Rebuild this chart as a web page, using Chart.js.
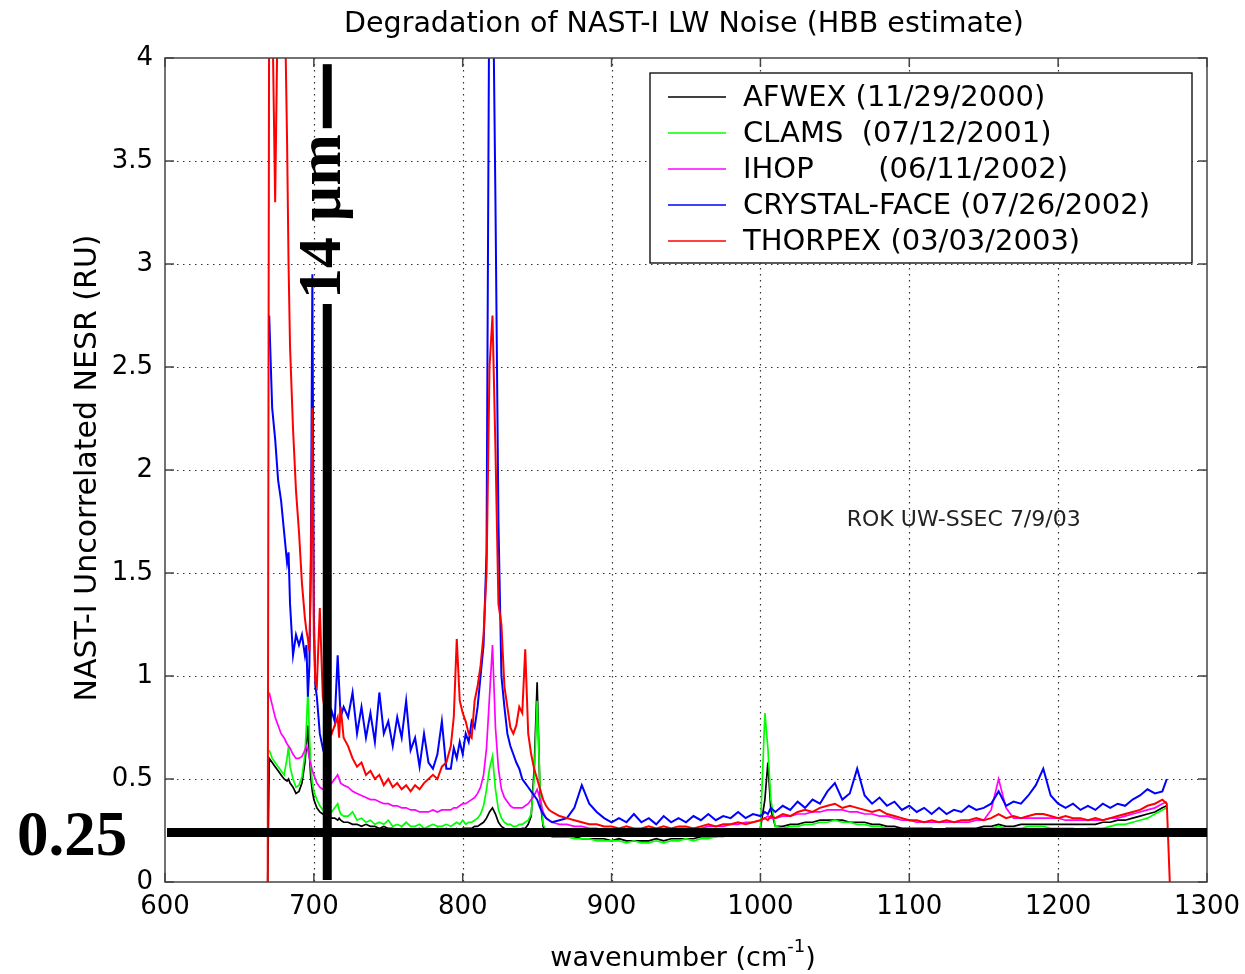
<!DOCTYPE html>
<html>
<head>
<meta charset="utf-8">
<title>Degradation of NAST-I LW Noise (HBB estimate)</title>
<script src="https://cdn.jsdelivr.net/npm/chart.js@4.4.1/dist/chart.umd.min.js"></script>
<style>
  html, body { margin: 0; padding: 0; background: #fff; }
  #wrap { width: 1245px; height: 974px; }
</style>
</head>
<body>
<div id="wrap"><canvas id="noiseChart" width="1245" height="974"></canvas></div>
<script>
// wavenumber grid (cm-1), shared by all five flights
var wavenumber = [
    669, 670, 672, 674, 676, 678, 680, 682, 683, 684, 686, 688, 690, 692, 694, 695, 696, 697, 698, 699,
    700, 701, 702, 704, 706, 708, 710, 712, 714, 716, 717, 718, 720,
    723, 726, 729, 732, 735, 738, 741, 744, 747, 750, 753, 756, 759, 762, 765, 768, 771, 774, 777, 780,
    783, 786, 789,
    792, 794, 796, 798, 800, 802, 804, 806, 808, 810, 812, 814, 816, 818, 820, 822, 824, 826, 828, 830,
    832, 834, 836, 838, 840, 842, 844, 846, 848, 850, 852, 854, 856, 858, 860,
    865, 870, 875, 880, 885, 890, 895, 900, 905, 910, 915, 920, 925, 930, 935, 940, 945, 950, 955, 960,
    965, 970, 975, 980, 985, 990, 995, 1000, 1003, 1005, 1007,
    1010, 1015, 1020, 1025, 1030, 1035, 1040, 1045, 1050, 1055, 1060, 1065, 1070, 1075, 1080, 1085, 1090,
    1095, 1100, 1105, 1110, 1115, 1120, 1125, 1130, 1135, 1140, 1145, 1150, 1155, 1160, 1165, 1170, 1175,
    1180, 1185, 1190, 1195, 1200, 1205, 1210, 1215, 1220, 1225, 1230, 1235, 1240, 1245, 1250, 1255, 1260,
    1265, 1270, 1273, 1275
];

// NESR (RU), one list per flight
var afwex = [
    0, 0.60, 0.58, 0.56, 0.54, 0.52, 0.50, 0.49, 0.50, 0.48, 0.46, 0.43, 0.44, 0.48, 0.58, 0.66, 0.76, 0.62, 0.50, 0.44,
    0.40, 0.38, 0.36, 0.34, 0.33, 0.32, 0.32, 0.31, 0.31, 0.30, 0.31, 0.30, 0.29,
    0.29, 0.28, 0.28, 0.27, 0.28, 0.27, 0.27, 0.26, 0.27, 0.26, 0.26, 0.25, 0.26, 0.25, 0.25, 0.25, 0.26, 0.25, 0.25, 0.25,
    0.26, 0.25, 0.26,
    0.25, 0.25, 0.26, 0.25, 0.26, 0.26, 0.26, 0.26, 0.27, 0.27, 0.28, 0.29, 0.31, 0.34, 0.36, 0.33, 0.29, 0.27, 0.26, 0.25,
    0.25, 0.25, 0.25, 0.25, 0.26, 0.26, 0.28, 0.32, 0.55, 0.97, 0.40, 0.27, 0.24, 0.23, 0.22,
    0.22, 0.22, 0.22, 0.21, 0.21, 0.21, 0.21, 0.20, 0.21, 0.20, 0.20, 0.20, 0.20, 0.21, 0.20, 0.21, 0.21, 0.21, 0.21, 0.22,
    0.22, 0.22, 0.23, 0.23, 0.24, 0.24, 0.25, 0.26, 0.40, 0.58, 0.35,
    0.27, 0.27, 0.28, 0.28, 0.29, 0.29, 0.30, 0.30, 0.30, 0.30, 0.29, 0.29, 0.29, 0.28, 0.28, 0.27, 0.27,
    0.26, 0.26, 0.26, 0.26, 0.26, 0.25, 0.26, 0.26, 0.26, 0.26, 0.26, 0.27, 0.27, 0.28, 0.27, 0.27, 0.28,
    0.28, 0.28, 0.28, 0.28, 0.28, 0.28, 0.28, 0.28, 0.28, 0.28, 0.29, 0.29, 0.30, 0.30, 0.31, 0.32, 0.33,
    0.34, 0.36, 0.37, null
];
var clams = [
    null, 0.64, 0.60, 0.58, 0.56, 0.54, 0.52, 0.60, 0.66, 0.56, 0.50, 0.46, 0.47, 0.51, 0.62, 0.76, 0.93, 0.72, 0.56, 0.48,
    0.44, 0.42, 0.40, 0.37, 0.35, 0.34, 0.33, 0.34, 0.36, 0.38, 0.35, 0.33, 0.32,
    0.32, 0.34, 0.30, 0.31, 0.29, 0.30, 0.28, 0.29, 0.28, 0.30, 0.27, 0.28, 0.27, 0.29, 0.27, 0.27, 0.28, 0.26, 0.27, 0.28,
    0.27, 0.27, 0.28,
    0.27, 0.28, 0.29, 0.28, 0.30, 0.28, 0.29, 0.29, 0.30, 0.31, 0.33, 0.37, 0.45, 0.55, 0.61, 0.45, 0.35, 0.31, 0.29, 0.28,
    0.28, 0.27, 0.27, 0.28, 0.28, 0.29, 0.30, 0.33, 0.50, 0.88, 0.45, 0.28, 0.25, 0.24, 0.23,
    0.22, 0.22, 0.21, 0.21, 0.21, 0.20, 0.20, 0.20, 0.20, 0.19, 0.20, 0.19, 0.19, 0.20, 0.19, 0.20, 0.20, 0.21, 0.20, 0.21,
    0.21, 0.22, 0.22, 0.23, 0.23, 0.24, 0.24, 0.26, 0.82, 0.65, 0.40,
    0.27, 0.26, 0.27, 0.27, 0.28, 0.28, 0.29, 0.29, 0.30, 0.29, 0.29, 0.28, 0.28, 0.27, 0.27, 0.26, 0.26,
    0.25, 0.25, 0.25, 0.24, 0.25, 0.24, 0.25, 0.24, 0.25, 0.25, 0.25, 0.25, 0.26, 0.27, 0.26, 0.26, 0.26,
    0.27, 0.27, 0.27, 0.26, 0.26, 0.26, 0.26, 0.25, 0.26, 0.26, 0.26, 0.27, 0.28, 0.28, 0.29, 0.30, 0.31,
    0.33, 0.35, 0.36, null
];
var ihop = [
    null, 0.92, 0.86, 0.80, 0.76, 0.72, 0.70, 0.67, 0.66, 0.65, 0.62, 0.60, 0.60, 0.61, 0.64, 0.66, 0.64, 0.60, 0.57, 0.54,
    0.52, 0.50, 0.48, 0.46, 0.45, 0.45, 0.46, 0.48, 0.50, 0.52, 0.50, 0.48, 0.47,
    0.46, 0.44, 0.43, 0.42, 0.41, 0.40, 0.40, 0.39, 0.38, 0.38, 0.37, 0.37, 0.36, 0.36, 0.35, 0.35, 0.34, 0.34, 0.34, 0.35,
    0.34, 0.35, 0.35,
    0.35, 0.36, 0.36, 0.37, 0.38, 0.38, 0.39, 0.40, 0.41, 0.43, 0.46, 0.52, 0.65, 0.90, 1.15, 0.75, 0.55, 0.45, 0.41, 0.39,
    0.37, 0.36, 0.36, 0.36, 0.36, 0.37, 0.38, 0.40, 0.42, 0.45, 0.40, 0.34, 0.31, 0.30, 0.29,
    0.28, 0.28, 0.27, 0.27, 0.26, 0.26, 0.25, 0.25, 0.25, 0.25, 0.25, 0.25, 0.25, 0.25, 0.25, 0.25, 0.26, 0.26, 0.26, 0.26,
    0.27, 0.27, 0.27, 0.28, 0.28, 0.29, 0.29, 0.30, 0.31, 0.32, 0.31,
    0.31, 0.32, 0.32, 0.33, 0.33, 0.34, 0.34, 0.35, 0.35, 0.35, 0.34, 0.34, 0.33, 0.33, 0.32, 0.32, 0.31,
    0.30, 0.30, 0.29, 0.29, 0.29, 0.29, 0.29, 0.29, 0.29, 0.29, 0.30, 0.30, 0.35, 0.50, 0.36, 0.31, 0.31,
    0.31, 0.31, 0.31, 0.31, 0.31, 0.30, 0.30, 0.30, 0.30, 0.30, 0.30, 0.31, 0.31, 0.32, 0.33, 0.34, 0.35,
    0.36, 0.38, 0.39, null
];
var crystalFace = [
    null, 2.75, 2.30, 2.15, 1.95, 1.85, 1.70, 1.55, 1.60, 1.35, 1.10, 1.20, 1.15, 1.20, 1.10, 1.15, 0.90, 1.05, 1.60, 2.95,
    1.30, 0.95, 0.90, 0.72, 0.65, 0.70, 0.75, 0.83, 0.78, 1.10, 0.95, 0.80, 0.85,
    0.80, 0.92, 0.72, 0.85, 0.70, 0.82, 0.68, 0.92, 0.72, 0.78, 0.66, 0.80, 0.70, 0.88, 0.64, 0.70, 0.56, 0.72, 0.58, 0.55,
    0.62, 0.78, 0.55,
    0.55, 0.65, 0.60, 0.68, 0.62, 0.72, 0.68, 0.78, 0.75, 0.85, 1.00, 1.15, 1.60, 4.60, 4.60, 3.30, 1.75, 1.00, 0.85, 0.72,
    0.66, 0.62, 0.58, 0.55, 0.50, 0.48, 0.46, 0.44, 0.42, 0.40, 0.36, 0.33, 0.31, 0.30, 0.29,
    0.30, 0.31, 0.36, 0.47, 0.38, 0.34, 0.31, 0.29, 0.31, 0.29, 0.33, 0.29, 0.31, 0.28, 0.32, 0.29, 0.31, 0.29, 0.32, 0.30,
    0.33, 0.30, 0.32, 0.31, 0.34, 0.31, 0.33, 0.32, 0.34, 0.33, 0.36,
    0.34, 0.37, 0.35, 0.39, 0.36, 0.40, 0.38, 0.44, 0.48, 0.40, 0.43, 0.55, 0.42, 0.38, 0.41, 0.37, 0.39,
    0.35, 0.37, 0.34, 0.36, 0.33, 0.36, 0.33, 0.35, 0.34, 0.37, 0.35, 0.36, 0.38, 0.44, 0.37, 0.39, 0.38,
    0.42, 0.47, 0.55, 0.42, 0.38, 0.36, 0.38, 0.35, 0.37, 0.35, 0.38, 0.36, 0.38, 0.37, 0.40, 0.42, 0.45,
    0.43, 0.44, 0.50, null
];
var thorpex = [
    0, 4.50, 4.30, 3.30, 4.40, 4.20, 4.50, 3.60, 3.00, 2.60, 2.20, 1.90, 1.70, 1.45, 1.28, 1.22, 1.18, 1.12, 1.50, 2.30,
    1.20, 0.97, 0.95, 1.33, 0.90, 0.80, 0.76, 0.72, 0.76, 0.80, 0.70, 0.85, 0.70,
    0.66, 0.60, 0.56, 0.58, 0.52, 0.54, 0.50, 0.52, 0.47, 0.50, 0.46, 0.48, 0.45, 0.47, 0.44, 0.47, 0.45, 0.48, 0.50, 0.52,
    0.50, 0.56, 0.58,
    0.66, 0.80, 1.18, 0.88, 0.82, 0.78, 0.72, 0.70, 0.88, 0.95, 1.05, 1.20, 1.50, 2.50, 2.75, 2.10, 1.35, 1.25, 0.95, 0.85,
    0.75, 0.72, 0.76, 0.85, 0.82, 1.13, 0.72, 0.62, 0.55, 0.50, 0.45, 0.40, 0.37, 0.35, 0.34,
    0.32, 0.31, 0.30, 0.29, 0.28, 0.28, 0.27, 0.27, 0.26, 0.27, 0.26, 0.26, 0.27, 0.26, 0.27, 0.26, 0.27, 0.27, 0.26, 0.27,
    0.28, 0.27, 0.28, 0.28, 0.29, 0.28, 0.29, 0.30, 0.31, 0.30, 0.32,
    0.31, 0.33, 0.32, 0.34, 0.35, 0.34, 0.36, 0.37, 0.38, 0.36, 0.37, 0.36, 0.35, 0.34, 0.35, 0.33, 0.32,
    0.31, 0.30, 0.30, 0.29, 0.30, 0.29, 0.30, 0.29, 0.30, 0.30, 0.31, 0.30, 0.31, 0.33, 0.31, 0.32, 0.31,
    0.32, 0.33, 0.33, 0.32, 0.31, 0.32, 0.31, 0.31, 0.30, 0.31, 0.30, 0.31, 0.32, 0.33, 0.34, 0.35, 0.37,
    0.38, 0.40, 0.38, 0
];

var seriesNames = ['AFWEX (11/29/2000)', 'CLAMS  (07/12/2001)', 'IHOP       (06/11/2002)',
                   'CRYSTAL-FACE (07/26/2002)', 'THORPEX (03/03/2003)'];
var seriesColors = ['#000000', '#00ff00', '#ff00ff', '#0000ff', '#ff0000'];
var seriesValues = [afwex, clams, ihop, crystalFace, thorpex];

var xTicks = [600, 700, 800, 900, 1000, 1100, 1200, 1300];
var yTicks = [0, 0.5, 1, 1.5, 2, 2.5, 3, 3.5, 4];

// hand-drawn overlay: 14 um line and 0.25 RU line
var markerWavenumber = 709;
var markerNoise = 0.24;
var markerTop = 3.97;
var markerLabelAt = 3.23;

var font = 'DejaVu Sans';

function toPoints(values) {
    var pts = [];
    for (var i = 0; i < wavenumber.length; i++) {
        if (values[i] !== null) pts.push({ x: wavenumber[i], y: values[i] });
    }
    return pts;
}

var datasets = seriesValues.map(function (vals, i) {
    return {
        label: seriesNames[i],
        data: toPoints(vals),
        borderColor: seriesColors[i],
        borderWidth: i >= 3 ? 2 : 1.7,
        pointRadius: 0,
        tension: 0,
        fill: false,
        order: seriesValues.length - i   // later flights drawn on top, like the original
    };
});

function line(ctx, x1, y1, x2, y2) {
    ctx.beginPath();
    ctx.moveTo(x1, y1);
    ctx.lineTo(x2, y2);
    ctx.stroke();
}

var framePlugin = {
    id: 'frame',
    beforeDatasetsDraw: function (chart) {
        var ctx = chart.ctx, a = chart.chartArea;
        var xs = chart.scales.x, ys = chart.scales.y;
        ctx.save();
        ctx.strokeStyle = '#333';
        ctx.lineWidth = 1.2;
        ctx.setLineDash([1.5, 4.5]);
        xTicks.forEach(function (v) {
            var px = Math.round(xs.getPixelForValue(v)) + 0.5;
            if (px > a.left + 2 && px < a.right - 2) line(ctx, px, a.top, px, a.bottom);
        });
        yTicks.forEach(function (v) {
            var py = Math.round(ys.getPixelForValue(v)) + 0.5;
            if (py > a.top + 2 && py < a.bottom - 2) line(ctx, a.left, py, a.right, py);
        });
        ctx.restore();
    },
    afterDatasetsDraw: function (chart) {
        var ctx = chart.ctx, a = chart.chartArea;
        var xs = chart.scales.x, ys = chart.scales.y;
        ctx.save();

        // axis box with inward ticks
        ctx.strokeStyle = '#444';
        ctx.lineWidth = 1.5;
        ctx.strokeRect(a.left, a.top, a.right - a.left, a.bottom - a.top);
        xTicks.forEach(function (v) {
            var px = xs.getPixelForValue(v);
            line(ctx, px, a.bottom, px, a.bottom - 9);
            line(ctx, px, a.top, px, a.top + 9);
        });
        yTicks.forEach(function (v) {
            var py = ys.getPixelForValue(v);
            line(ctx, a.left, py, a.left + 9, py);
            line(ctx, a.right, py, a.right - 9, py);
        });

        // legend
        var lx = a.right - 557, ly = a.top + 15;
        ctx.fillStyle = '#fff';
        ctx.fillRect(lx, ly, 542, 190);
        ctx.strokeStyle = '#000';
        ctx.lineWidth = 1.3;
        ctx.strokeRect(lx, ly, 542, 190);
        ctx.font = '29px "' + font + '"';
        ctx.textBaseline = 'middle';
        ctx.textAlign = 'left';
        seriesNames.forEach(function (name, i) {
            var ry = ly + 24 + i * 36;
            ctx.strokeStyle = seriesColors[i];
            ctx.lineWidth = 1.3;
            line(ctx, lx + 18, ry, lx + 76, ry);
            ctx.fillStyle = '#000';
            ctx.fillText(name, lx + 93, ry + 1);
        });

        // annotation
        ctx.font = '22px "' + font + '"';
        ctx.fillStyle = '#222';
        ctx.fillText('ROK UW-SSEC 7/9/03', xs.getPixelForValue(1058), ys.getPixelForValue(1.757));

        // thick overlay lines
        var mx = xs.getPixelForValue(markerWavenumber);
        var my = ys.getPixelForValue(markerNoise);
        ctx.strokeStyle = '#000';
        ctx.lineWidth = 9;
        ctx.lineCap = 'butt';
        line(ctx, a.left + 2, my, a.right, my);

        ctx.font = 'bold 62px "Liberation Serif"';
        var label = '14 \u00b5m';
        var half = ctx.measureText(label).width / 2;
        var cy = ys.getPixelForValue(markerLabelAt);
        line(ctx, mx, ys.getPixelForValue(0.01), mx, cy + half + 5);
        line(ctx, mx, cy - half - 6, mx, ys.getPixelForValue(markerTop));

        ctx.save();
        ctx.translate(mx + 13, cy);
        ctx.rotate(-Math.PI / 2);
        ctx.textAlign = 'center';
        ctx.textBaseline = 'alphabetic';
        ctx.fillStyle = '#000';
        ctx.fillText(label, 0, 0);
        ctx.restore();

        ctx.font = 'bold 63px "Liberation Serif"';
        ctx.textAlign = 'left';
        ctx.textBaseline = 'alphabetic';
        ctx.fillStyle = '#000';
        ctx.fillText('0.25', 17, my + 22);

        // title and axis titles
        ctx.fillStyle = '#000';
        ctx.font = '28.5px "' + font + '"';
        ctx.textAlign = 'center';
        ctx.textBaseline = 'middle';
        ctx.fillText('Degradation of NAST-I LW Noise (HBB estimate)', 684, 25);

        ctx.save();
        ctx.translate(88, 468);
        ctx.rotate(-Math.PI / 2);
        ctx.font = '30px "' + font + '"';
        ctx.fillText('NAST-I Uncorrelated NESR (RU)', 0, 0);
        ctx.restore();

        ctx.font = '27px "' + font + '"';
        var main = 'wavenumber (cm', sup = '-1', tail = ')';
        var w1 = ctx.measureText(main).width, w3 = ctx.measureText(tail).width;
        ctx.font = '18px "' + font + '"';
        var w2 = ctx.measureText(sup).width;
        var x0 = 683 - (w1 + w2 + w3) / 2;
        ctx.textAlign = 'left';
        ctx.font = '27px "' + font + '"';
        ctx.fillText(main, x0, 959);
        ctx.fillText(tail, x0 + w1 + w2, 959);
        ctx.font = '18px "' + font + '"';
        ctx.fillText(sup, x0 + w1, 947);

        ctx.restore();
    }
};

function plainTick(value) {
    return String(value);
}

var ctx = document.getElementById('noiseChart').getContext('2d');
var noiseChart = new Chart(ctx, {
    type: 'line',
    data: { datasets: datasets },
    options: {
        responsive: false,
        animation: false,
        devicePixelRatio: 1,
        layout: { padding: { top: 58, right: 38, left: 0, bottom: 0 } },
        plugins: { legend: { display: false }, tooltip: { enabled: false }, title: { display: false } },
        scales: {
            x: {
                type: 'linear',
                min: 600,
                max: 1300,
                afterBuildTicks: function (s) { s.ticks = xTicks.map(function (v) { return { value: v }; }); },
                afterFit: function (s) { s.height = 92; s.paddingLeft = 0; s.paddingRight = 0; },
                ticks: { font: { family: font, size: 26 }, color: '#000', padding: 10, maxRotation: 0, autoSkip: false, callback: plainTick },
                grid: { display: false, drawTicks: false },
                border: { display: false }
            },
            y: {
                type: 'linear',
                min: 0,
                max: 4,
                afterBuildTicks: function (s) { s.ticks = yTicks.map(function (v) { return { value: v }; }); },
                afterFit: function (s) { s.width = 165; s.paddingTop = 0; s.paddingBottom = 0; },
                ticks: { font: { family: font, size: 26 }, color: '#000', padding: 12, callback: plainTick },
                grid: { display: false, drawTicks: false },
                border: { display: false }
            }
        }
    },
    plugins: [framePlugin]
});
</script>
</body>
</html>
